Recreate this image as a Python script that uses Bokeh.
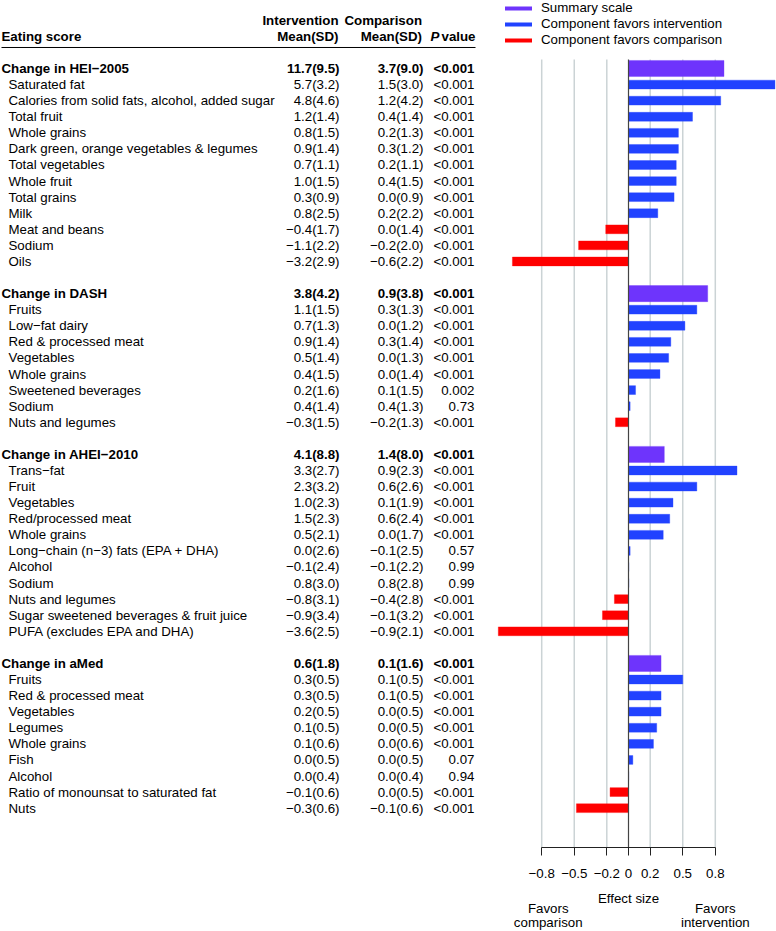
from bokeh.plotting import figure
from bokeh.models import Range1d, FixedTicker, ColumnDataSource, Legend, LegendItem, LinearAxis
from bokeh.core.properties import value
from bokeh.embed import file_html
from bokeh.resources import INLINE

M = "\u2212"
NAN = float("nan")
# ---------------- data ----------------
hei_labels = ["Change in HEI" + M + "2005", "Saturated fat", "Calories from solid fats, alcohol, added sugar",
              "Total fruit", "Whole grains", "Dark green, orange vegetables & legumes", "Total vegetables",
              "Whole fruit", "Total grains", "Milk", "Meat and beans", "Sodium", "Oils"]
hei_int = ["11.7(9.5)", "5.7(3.2)", "4.8(4.6)", "1.2(1.4)", "0.8(1.5)", "0.9(1.4)", "0.7(1.1)", "1.0(1.5)",
           "0.3(0.9)", "0.8(2.5)", M + "0.4(1.7)", M + "1.1(2.2)", M + "3.2(2.9)"]
hei_cmp = ["3.7(9.0)", "1.5(3.0)", "1.2(4.2)", "0.4(1.4)", "0.2(1.3)", "0.3(1.2)", "0.2(1.1)", "0.4(1.5)",
           "0.0(0.9)", "0.2(2.2)", "0.0(1.4)", M + "0.2(2.0)", M + "0.6(2.2)"]
hei_p = ["<0.001"] * 13
hei_eff = [0.88, 1.35, 0.85, 0.59, 0.46, 0.46, 0.44, 0.44, 0.42, 0.27, -0.21, -0.46, -1.07]

dash_labels = ["Change in DASH", "Fruits", "Low" + M + "fat dairy", "Red & processed meat", "Vegetables",
               "Whole grains", "Sweetened beverages", "Sodium", "Nuts and legumes"]
dash_int = ["3.8(4.2)", "1.1(1.5)", "0.7(1.3)", "0.9(1.4)", "0.5(1.4)", "0.4(1.5)", "0.2(1.6)", "0.4(1.4)",
            M + "0.3(1.5)"]
dash_cmp = ["0.9(3.8)", "0.3(1.3)", "0.0(1.2)", "0.3(1.4)", "0.0(1.3)", "0.0(1.4)", "0.1(1.5)", "0.4(1.3)",
            M + "0.2(1.3)"]
dash_p = ["<0.001"] * 6 + ["0.002", "0.73", "<0.001"]
dash_eff = [0.73, 0.63, 0.52, 0.39, 0.37, 0.29, 0.065, 0.015, -0.12]

ahei_labels = ["Change in AHEI" + M + "2010", "Trans" + M + "fat", "Fruit", "Vegetables", "Red/processed meat",
               "Whole grains", "Long" + M + "chain (n" + M + "3) fats (EPA + DHA)", "Alcohol", "Sodium",
               "Nuts and legumes", "Sugar sweetened beverages & fruit juice", "PUFA (excludes EPA and DHA)"]
ahei_int = ["4.1(8.8)", "3.3(2.7)", "2.3(3.2)", "1.0(2.3)", "1.5(2.3)", "0.5(2.1)", "0.0(2.6)", M + "0.1(2.4)",
            "0.8(3.0)", M + "0.8(3.1)", M + "0.9(3.4)", M + "3.6(2.5)"]
ahei_cmp = ["1.4(8.0)", "0.9(2.3)", "0.6(2.6)", "0.1(1.9)", "0.6(2.4)", "0.0(1.7)", M + "0.1(2.5)", M + "0.1(2.2)",
            "0.8(2.8)", M + "0.4(2.8)", M + "0.1(3.2)", M + "0.9(2.1)"]
ahei_p = ["<0.001"] * 6 + ["0.57", "0.99", "0.99", "<0.001", "<0.001", "<0.001"]
ahei_eff = [0.33, 1.0, 0.63, 0.41, 0.38, 0.32, 0.015, 0.003, 0.003, -0.13, -0.24, -1.2]

amed_labels = ["Change in aMed", "Fruits", "Red & processed meat", "Vegetables", "Legumes", "Whole grains",
               "Fish", "Alcohol", "Ratio of monounsat to saturated fat", "Nuts"]
amed_int = ["0.6(1.8)", "0.3(0.5)", "0.3(0.5)", "0.2(0.5)", "0.1(0.5)", "0.1(0.6)", "0.0(0.5)", "0.0(0.4)",
            M + "0.1(0.6)", M + "0.3(0.6)"]
amed_cmp = ["0.1(1.6)", "0.1(0.5)", "0.1(0.5)", "0.0(0.5)", "0.0(0.5)", "0.0(0.6)", "0.0(0.5)", "0.0(0.4)",
            "0.0(0.5)", M + "0.1(0.6)"]
amed_p = ["<0.001"] * 6 + ["0.07", "0.94", "<0.001", "<0.001"]
amed_eff = [0.30, 0.50, 0.30, 0.30, 0.26, 0.23, 0.04, 0.002, -0.17, -0.48]

ticks = [-0.8, -0.5, -0.2, 0, 0.2, 0.5, 0.8]
tick_labels = [M + "0.8", M + "0.5", M + "0.2", "0", "0.2", "0.5", "0.8"]

groups = [(hei_labels, hei_int, hei_cmp, hei_p, hei_eff),
          (dash_labels, dash_int, dash_cmp, dash_p, dash_eff),
          (ahei_labels, ahei_int, ahei_cmp, ahei_p, ahei_eff),
          (amed_labels, amed_int, amed_cmp, amed_p, amed_eff)]

PURPLE, BLUE, RED = "#6E34FC", "#2142FF", "#FF0000"

rows, labs, ints, cmps, ps, effs, styles, lxs, hts, cols = [], [], [], [], [], [], [], [], [], []
r = 0
for (lab, iv, cv, pv, ev) in groups:
    for k in range(len(lab)):
        rows.append(r)
        labs.append(lab[k]); ints.append(iv[k]); cmps.append(cv[k]); ps.append(pv[k]); effs.append(ev[k])
        summ = (k == 0)
        styles.append("bold" if summ else "normal")
        lxs.append(1 if summ else 8)
        hts.append(1.0 if summ else 0.55)
        cols.append(PURPLE if summ else (BLUE if ev[k] > 0 else RED))
        r += 1
    r += 1

src = ColumnDataSource(dict(y=rows, lab=labs, iv=ints, cv=cmps, pv=ps, eff=effs, st=styles, lx=lxs,
                            h=hts, c=cols))

# ---------------- figure ----------------
W, H = 776, 931
ROW_PX = 16.08
Y_END = -68 / ROW_PX
Y_START = Y_END + H / ROW_PX
PX_UNIT = 108.5
X0 = 628
FONT = value("Liberation Sans")
FS = value("13.3px")
p = figure(width=W, height=H, output_backend="svg", toolbar_location=None,
           x_range=Range1d(-X0 / PX_UNIT, (W - X0) / PX_UNIT), y_range=Range1d(Y_START, Y_END),
           x_axis_type=None, y_axis_type=None, min_border=0)
p.outline_line_color = None
p.extra_x_ranges = {"table": Range1d(0, W)}

AX_ROW = 48.45
TOP_ROW = -0.56
grid_x = [t for t in ticks if t != 0]
p.segment(x0=grid_x, x1=grid_x, y0=[TOP_ROW] * len(grid_x), y1=[AX_ROW] * len(grid_x),
          line_color="#CBD3D5", line_width=1.5)

p.hbar(y="y", left=0, right="eff", height="h", fill_color="c", line_color="c", line_alpha=0.35,
       line_width=1, source=src)
p.segment(x0=[0], x1=[0], y0=[TOP_ROW], y1=[AX_ROW], line_color="#444444", line_width=1.2)

# table text
common = dict(text_font=FONT, text_font_size=FS, text_color="black", text_baseline="middle",
              x_range_name="table")
p.text(x="lx", y="y", text="lab", text_font_style="st", text_align="left", source=src, **common)
p.text(x=339, y="y", text="iv", text_font_style="st", text_align="right", source=src, **common)
p.text(x=423, y="y", text="cv", text_font_style="st", text_align="right", source=src, **common)
p.text(x=474, y="y", text="pv", text_font_style="st", text_align="right", source=src, **common)

# header
p.text(x=[1], y=[-1.99], text=["Eating score"], text_align="left", text_font_style="bold", **common)
p.text(x=[338, 421.5], y=[-2.985, -2.985], text=["Intervention", "Comparison"], text_align="right",
       text_font_style="bold", **common)
p.text(x=[338, 421.5], y=[-1.99, -1.99], text=["Mean(SD)", "Mean(SD)"], text_align="right",
       text_font_style="bold", **common)
p.text(x=[475], y=[-1.99], text=["value"], text_align="right", text_font_style="bold", **common)
p.text(x=[430], y=[-1.99], text=["P"], text_align="left", text_font_style="bold italic", **common)
p.segment(x0=[1], x1=[475], y0=[-1.306], y1=[-1.306], line_color="black", line_width=1,
          x_range_name="table")

# bottom annotations
bot = dict(text_font=FONT, text_font_size=FS, text_color="black", text_align="center",
           text_baseline="middle")
p.text(x=[-0.74, 0.8], y=[52.24, 52.24], text=["Favors", "Favors"], **bot)
p.text(x=[-0.74, 0.8], y=[53.1, 53.1], text=["comparison", "intervention"], **bot)

# axis
ax = LinearAxis(ticker=FixedTicker(ticks=ticks), fixed_location=AX_ROW, bounds=(-0.8, 0.8),
                major_label_overrides={t: l for t, l in zip(ticks, tick_labels)})
ax.axis_line_color = "#222222"
ax.major_tick_line_color = "#222222"
ax.major_tick_out = 8
ax.major_tick_in = 0
ax.minor_tick_out = 0
ax.minor_tick_in = 0
ax.major_label_standoff = 13
ax.major_label_text_font = "Liberation Sans"
ax.major_label_text_font_size = "13.3px"
ax.major_label_text_color = "black"
ax.axis_label = "Effect size"
ax.axis_label_text_font = "Liberation Sans"
ax.axis_label_text_font_size = "13.3px"
ax.axis_label_text_font_style = "normal"
ax.axis_label_text_color = "black"
ax.axis_label_standoff = 10
p.add_layout(ax, "below")

# legend
r1 = p.line(x=[NAN], y=[NAN], line_color=PURPLE, line_width=4, line_cap="round")
r2 = p.line(x=[NAN], y=[NAN], line_color=BLUE, line_width=4, line_cap="round")
r3 = p.line(x=[NAN], y=[NAN], line_color=RED, line_width=4, line_cap="round")
leg = Legend(items=[LegendItem(label="Summary scale", renderers=[r1]),
                    LegendItem(label="Component favors intervention", renderers=[r2]),
                    LegendItem(label="Component favors comparison", renderers=[r3])],
             location=(505, H - 47), glyph_width=27, glyph_height=12, label_height=12, spacing=1,
             padding=0, margin=0, label_standoff=9, border_line_color=None, background_fill_alpha=0,
             label_text_font="Liberation Sans", label_text_font_size="13.3px",
             label_text_color="black")
p.add_layout(leg)

open("out.html", "w").write(file_html(p, INLINE))
